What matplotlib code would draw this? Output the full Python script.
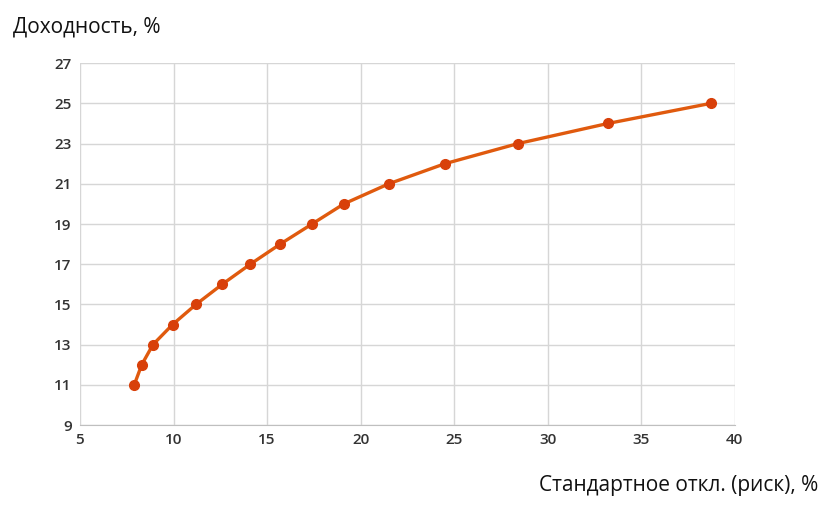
import matplotlib
matplotlib.use("agg")
import matplotlib.pyplot as plt

# Efficient frontier: risk (std dev, %) vs expected return (%)
risk = [7.9, 8.3, 8.9, 9.95, 11.2, 12.6, 14.1, 15.7, 17.4, 19.1, 21.5, 24.5, 28.4, 33.2, 38.7]
returns = [11, 12, 13, 14, 15, 16, 17, 18, 19, 20, 21, 22, 23, 24, 25]
x_ticks = [5, 10, 15, 20, 25, 30, 35, 40]
y_ticks = [9, 11, 13, 15, 17, 19, 21, 23, 25, 27]

plt.rcParams['font.family'] = ['Open Sans', 'DejaVu Sans']

fig = plt.figure(figsize=(8.28, 5.18), dpi=100)
ax = fig.add_axes([0.0966, 0.1795, 0.7910, 0.6985])

ax.plot(risk, returns, color='#E05A0E', linewidth=2.4, marker='o',
        markersize=7, markerfacecolor='#D8400A', markeredgecolor='#D8400A',
        zorder=3)

ax.set_xlim(5, 40)
ax.set_ylim(9, 27)
ax.set_xticks(x_ticks)
ax.set_yticks(y_ticks)

# Grid formatting
ax.grid(True, color='#D6D6D6', linewidth=1.0)
ax.set_axisbelow(True)
for s in ['top', 'right', 'left']:
    ax.spines[s].set_visible(False)
ax.spines['bottom'].set_color('#BFBFBF')
ax.tick_params(length=0, labelsize=11, colors='#333333', pad=6)
for lbl in ax.get_xticklabels() + ax.get_yticklabels():
    lbl.set_fontweight('semibold')

fig.text(0.016, 0.947, 'Доходность, %', fontsize=15, color='#111111', ha='left', va='center')
fig.text(0.988, 0.063, 'Стандартное откл. (риск), %', fontsize=15, color='#111111',
         ha='right', va='center')

fig.savefig('out.png', dpi=100)
